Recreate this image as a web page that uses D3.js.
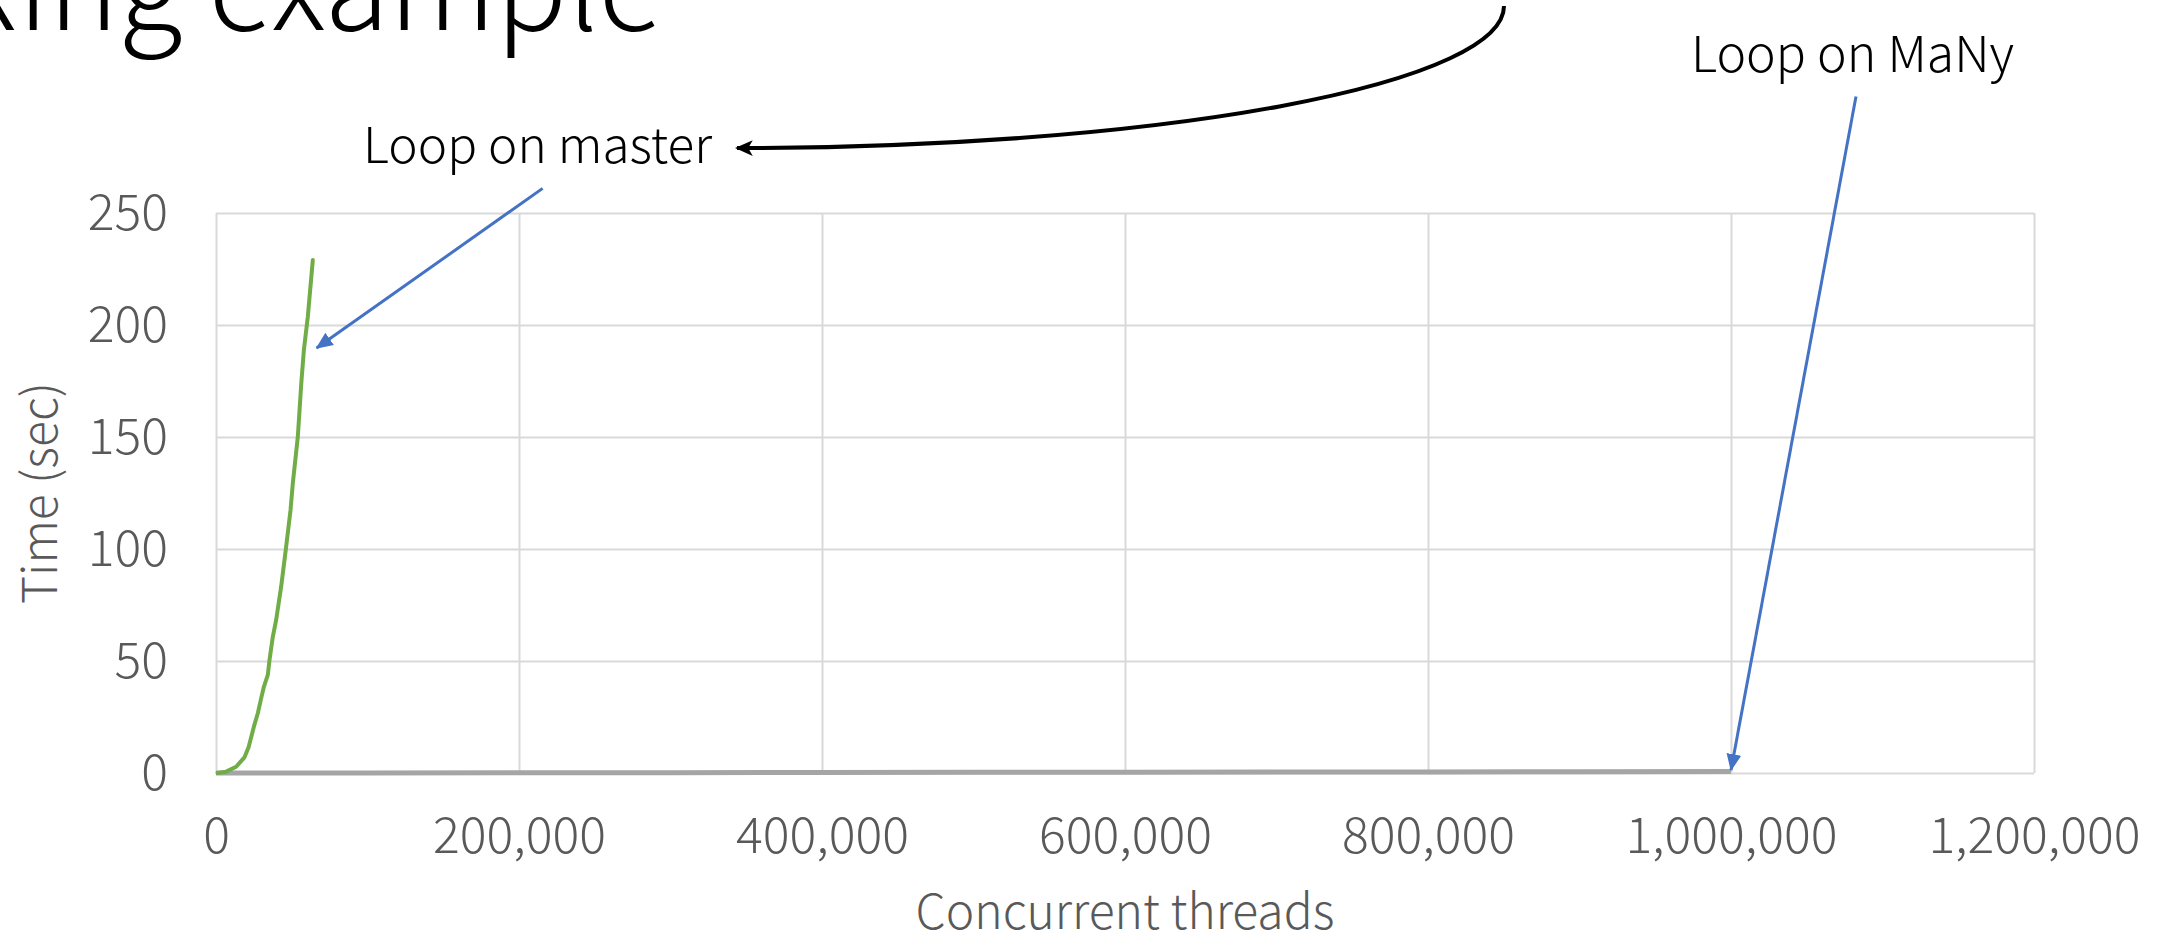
<!DOCTYPE html>
<html>
<head>
  <meta charset="utf-8" />
  <script src="https://cdnjs.cloudflare.com/ajax/libs/d3/7.8.5/d3.min.js"></script>
  <style>
    body { margin: 0; background: #fff; }
    svg { display: block; }
    text { font-family: "Noto Sans CJK JP", "Noto Sans", sans-serif; font-weight: 300; }
    .tick text { fill: #595959; }
    path.domain { stroke: none; }
  </style>
</head>
<body>
  <svg></svg>
  <script>
    // Loop on master: concurrent threads vs time (sec)
    var masterThreads = [1000, 6700, 13300, 18800, 21500, 25000, 27600, 29800, 31600, 34200, 35300,
                         37500, 39700, 43000, 46300, 49200, 50700, 54000, 56300, 58000, 60600, 63900];
    var masterTime = [0, 0.6, 2.8, 7.0, 11.5, 20.7, 26.7, 33.3, 38.5, 43.8, 50.4,
                      60.8, 68.3, 83.2, 101, 117.4, 129.3, 150.1, 174, 188.8, 203.7, 229];
    // Loop on MaNy
    var manyThreads = [0, 100000, 200000, 300000, 400000, 500000, 600000, 700000, 800000, 900000, 1000000];
    var manyTime = [0, 0.05, 0.1, 0.15, 0.25, 0.3, 0.35, 0.45, 0.5, 0.6, 0.7];

    var xTicks = [0, 200000, 400000, 600000, 800000, 1000000, 1200000];
    var yTicks = [0, 50, 100, 150, 200, 250];

    var W = 2160, H = 937;
    var svg = d3.select("svg").attr("width", W).attr("height", H);

    var x = d3.scaleLinear().domain([0, 1200000]).range([216, 2034]);
    var y = d3.scaleLinear().domain([0, 250]).range([773, 213]);

    // grid
    svg.append("g")
      .attr("transform", "translate(0,773)")
      .call(d3.axisBottom(x).tickValues(xTicks).tickSize(-560).tickFormat(""))
      .selectAll("line").attr("stroke", "#d9d9d9").attr("stroke-width", 2);
    svg.append("g")
      .attr("transform", "translate(216,0)")
      .call(d3.axisLeft(y).tickValues(yTicks).tickSize(-1818).tickFormat(""))
      .selectAll("line").attr("stroke", "#d9d9d9").attr("stroke-width", 2);

    // tick labels
    var xAxis = svg.append("g")
      .attr("transform", "translate(0,773)")
      .call(d3.axisBottom(x).tickValues(xTicks).tickSize(0).tickPadding(44).tickFormat(d3.format(",")));
    xAxis.selectAll("text").attr("font-size", 50);
    var yAxis = svg.append("g")
      .attr("transform", "translate(216,0)")
      .call(d3.axisLeft(y).tickValues(yTicks).tickSize(0).tickPadding(48));
    yAxis.selectAll("text").attr("font-size", 50);

    // axis titles
    svg.append("text")
      .attr("x", 1125).attr("y", 929)
      .attr("text-anchor", "middle").attr("font-size", 48).attr("fill", "#595959")
      .text("Concurrent threads");
    svg.append("text")
      .attr("transform", "translate(57,493) rotate(-90)")
      .attr("text-anchor", "middle").attr("font-size", 48).attr("fill", "#595959")
      .text("Time (sec)");

    // series
    var line = d3.line().x(d => x(d[0])).y(d => y(d[1]));
    svg.append("path")
      .datum(d3.zip(manyThreads, manyTime))
      .attr("d", line)
      .attr("fill", "none").attr("stroke", "#a5a5a5").attr("stroke-width", 5);
    svg.append("path")
      .datum(d3.zip(masterThreads, masterTime))
      .attr("d", line)
      .attr("fill", "none").attr("stroke", "#70ad47").attr("stroke-width", 4)
      .attr("stroke-linejoin", "round").attr("stroke-linecap", "round");

    // arrow heads
    var defs = svg.append("defs");
    defs.append("marker").attr("id", "blueHead")
      .attr("markerUnits", "userSpaceOnUse").attr("viewBox", "0 0 16 14")
      .attr("markerWidth", 17).attr("markerHeight", 15)
      .attr("refX", 15).attr("refY", 7).attr("orient", "auto")
      .append("path").attr("d", "M0,0L16,7L0,14Z").attr("fill", "#4472c4");
    defs.append("marker").attr("id", "blackHead")
      .attr("markerUnits", "userSpaceOnUse").attr("viewBox", "0 0 16 14")
      .attr("markerWidth", 18).attr("markerHeight", 16)
      .attr("refX", 14).attr("refY", 7).attr("orient", "auto")
      .append("path").attr("d", "M0,0L16,7L0,14L4,7Z").attr("fill", "#000");

    // annotations: arrow start/end in data units
    var notes = [
      {label: "Loop on master", tx: 712, ty: 163, size: 49.5, from: [215600, 261], to: [66400, 189.7]},
      {label: "Loop on MaNy", tx: 2014, ty: 72, size: 50, from: [1082500, 302], to: [1000000, 1.3]}
    ];
    notes.forEach(function (n) {
      svg.append("line")
        .attr("x1", x(n.from[0])).attr("y1", y(n.from[1]))
        .attr("x2", x(n.to[0])).attr("y2", y(n.to[1]))
        .attr("stroke", "#4472c4").attr("stroke-width", 3)
        .attr("marker-end", "url(#blueHead)");
      svg.append("text")
        .attr("x", n.tx).attr("y", n.ty)
        .attr("text-anchor", "end").attr("font-size", n.size).attr("fill", "#000")
        .text(n.label);
    });

    // curved connector from the title
    svg.append("path")
      .attr("d", "M1504,6 A767,142 0 0 1 737,148")
      .attr("fill", "none").attr("stroke", "#000").attr("stroke-width", 4)
      .attr("marker-end", "url(#blackHead)");

    // slide title, partly off the top
    svg.append("text")
      .attr("x", 662).attr("y", 30)
      .attr("text-anchor", "end").attr("font-size", 118).attr("fill", "#000")
      .text("Ring example");
  </script>
</body>
</html>
